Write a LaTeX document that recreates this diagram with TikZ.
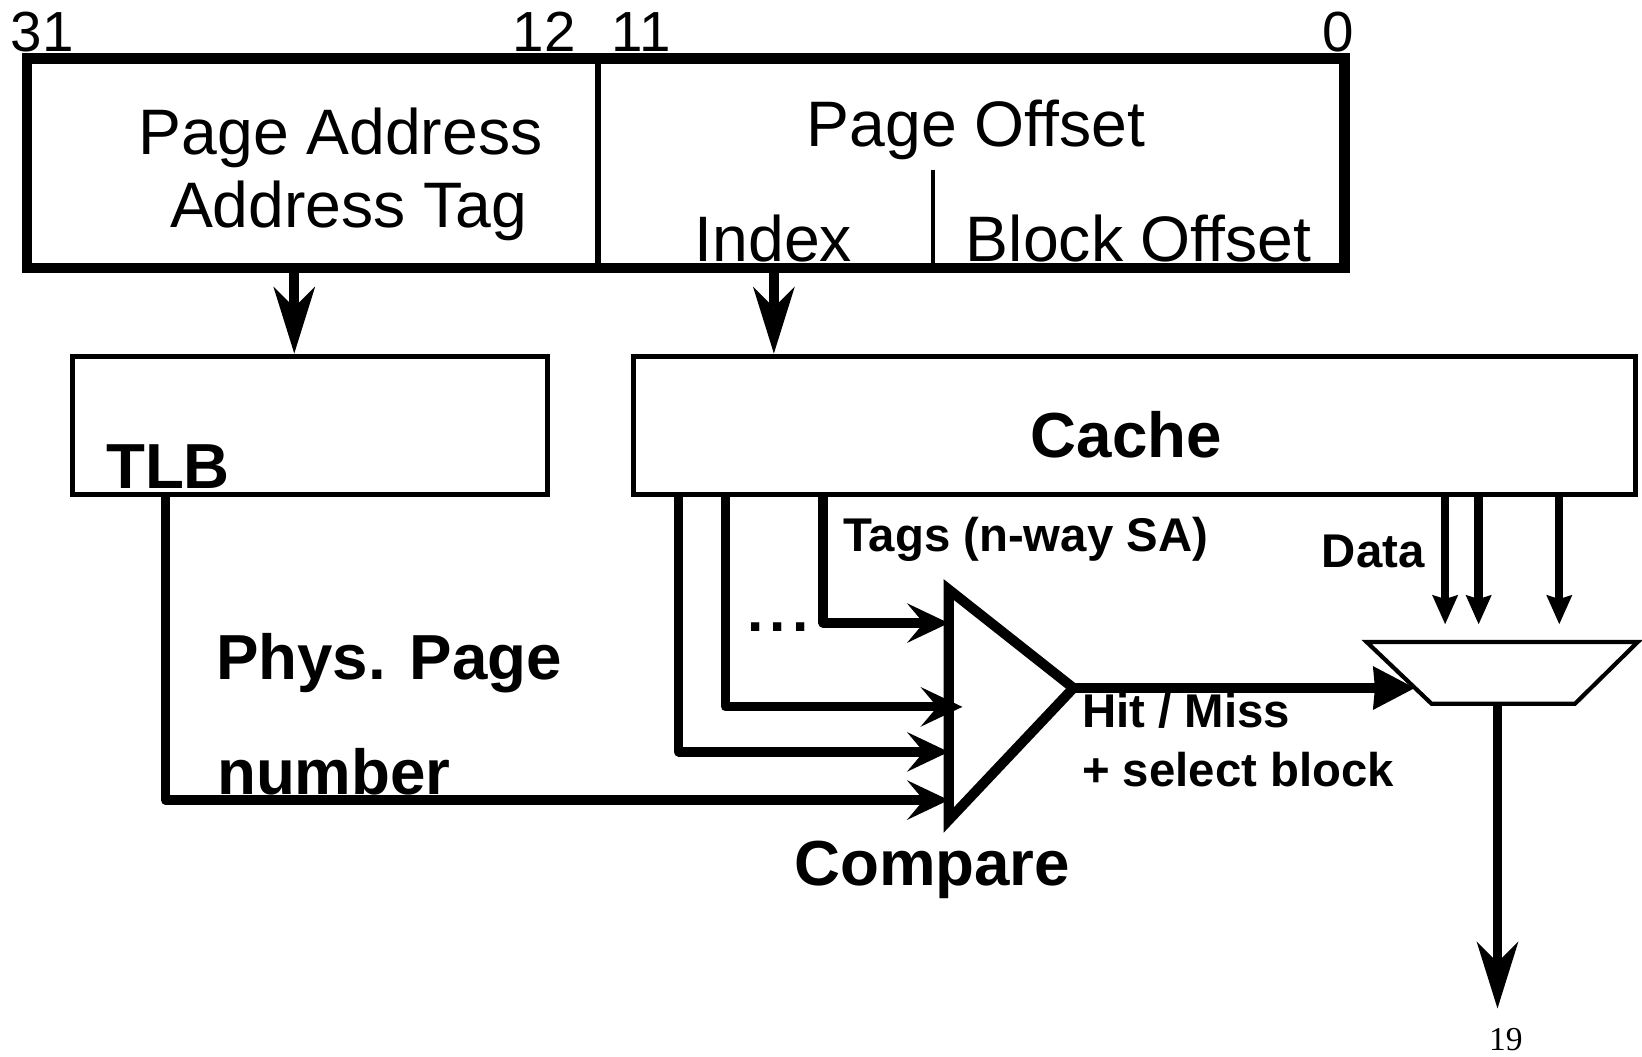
\documentclass[tikz,border=0pt]{standalone}
\usepackage{fontspec}
\setmainfont{Liberation Sans}
\newfontfamily\pagenumfont{Liberation Serif}
\usetikzlibrary{arrows.meta}
\begin{document}
\begin{tikzpicture}[x=0.5pt,y=-0.5pt,
  reg/.style={font=\fontsize{30.7}{33}\selectfont, inner sep=0pt, anchor=base west},
  bitno/.style={font=\fontsize{27}{30}\selectfont, inner sep=0pt},
  big/.style={font=\bfseries\fontsize{30.4}{33}\selectfont, inner sep=0pt, anchor=base west},
  small/.style={font=\bfseries\fontsize{22.6}{24}\selectfont, inner sep=0pt, anchor=base west},
  box/.style={draw, line width=2.4pt, inner sep=0pt},
  bus/.style={line width=4.4pt, line join=round},
  longarrow/.style={-{Stealth[length=32pt,width=20pt,inset=10pt,line width=0pt]}},
  cmparrow/.style={-{Stealth[length=20pt,width=19pt,inset=8pt,line width=0pt]}},
  hitarrow/.style={-{Stealth[length=20pt,width=21pt,inset=1pt,line width=0pt]}},
  dataarrow/.style={-{Stealth[length=14pt,width=12.5pt,inset=2pt,line width=0pt]}}
]
\useasboundingbox (0,0) rectangle (1568,1009);

% ---- virtual address register ----
\node[box, line width=5pt, minimum width=629pt, minimum height=100pt] (addr) at (655,156) {};
\coordinate (split) at (571,0);
\draw[line width=2.5pt] (addr.north -| split) -- (addr.south -| split);
\draw[line width=2pt] (891,162) -- (addr.south -| 891,0);

\node[bitno, anchor=base west] (b31) at (10,49) {31};
\node[bitno, anchor=base east] (b12) at (550,49) {12};
\node[bitno, anchor=base west] (b11) at (584,49) {11};
\node[bitno, anchor=base] (b0) at (1278,49) {0};

\node[reg] (pa1) at (132,148) {Page Address};
\node[reg] (pa2) at (162,217) {Address Tag};
\node[reg] (po) at (770,140) {Page Offset};
\node[reg] (idx) at (663,250) {Index};
\node[reg] (bo) at (922,250) {Block Offset};

% ---- TLB and cache arrays ----
\node[box, minimum width=227pt, minimum height=66pt] (tlb) at (296,406) {};
\node[big] (tlbl) at (101,466) {TLB};
\node[box, minimum width=478.5pt, minimum height=66pt] (cache) at (1083.5,406) {};
\node[big] (cachel) at (984,437) {Cache};

\coordinate (colTag) at (281,0);
\coordinate (colIdx) at (739,0);
\draw[line width=4.8pt, longarrow] (addr.south -| colTag) -- (tlb.north -| colTag);
\draw[line width=4.8pt, longarrow] (addr.south -| colIdx) -- (cache.north -| colIdx);

% ---- comparator ----
\coordinate (cmpTop) at (906,563);
\coordinate (cmpBot) at (906,783);
\coordinate (cmpOut) at (1025,657);
\draw[line width=4.8pt, miter limit=4] (cmpTop) -- (cmpOut) -- (cmpBot) -- cycle;
\coordinate (in1) at (906,595);
\coordinate (in2) at (919,675);
\coordinate (in3) at (906,718);
\coordinate (in4) at (906,764);

\draw[bus, cmparrow] (tlb.south -| 158,0) |- (in4);
\draw[bus, cmparrow] (cache.south -| 648,0) |- (in3);
\draw[bus, cmparrow] (cache.south -| 693,0) |- (in2);
\draw[bus, cmparrow] (cache.south -| 786,0) |- (in1);

\node[small] (tags) at (805,527) {Tags (n-way SA)};
\node[font=\bfseries\fontsize{28}{30}\selectfont, inner sep=0pt, anchor=base west] (dots) at (713,603) {.\kern3pt.\kern3pt.};
\node[big] (ppn1) at (206,649) {Phys. Page};
\node[big] (ppn2) at (207,759) {number};
\node[big] (cmpl) at (758,846) {Compare};

% ---- block select multiplexer ----
\coordinate (muxTL) at (1305,613);
\coordinate (muxTR) at (1564,613);
\coordinate (muxBR) at (1504,672);
\coordinate (muxBL) at (1367,672);
\draw[line width=2pt] (muxTL) -- (muxTR) -- (muxBR) -- (muxBL) -- cycle;
\coordinate (muxIn) at (1351,657);
\coordinate (muxOut) at (1430,672);

\draw[bus, hitarrow] (cmpOut) -- (muxIn);
\node[small] (hit1) at (1033,695) {Hit / Miss};
\node[small] (hit2) at (1033,751) {+ select block};

\draw[line width=4pt, dataarrow] (cache.south -| 1380,0) -- (1380,596);
\draw[line width=4pt, dataarrow] (cache.south -| 1412,0) -- (1412,596);
\draw[line width=4pt, dataarrow] (cache.south -| 1489,0) -- (1489,596);
\node[small] (datal) at (1262,542) {Data};

\coordinate (result) at (1430,963);
\draw[line width=4.4pt, longarrow] (muxOut) -- (result);

\node[font=\pagenumfont\fontsize{16}{18}\selectfont, inner sep=0pt, anchor=base] (pg) at (1438,1003) {19};
\end{tikzpicture}
\end{document}
